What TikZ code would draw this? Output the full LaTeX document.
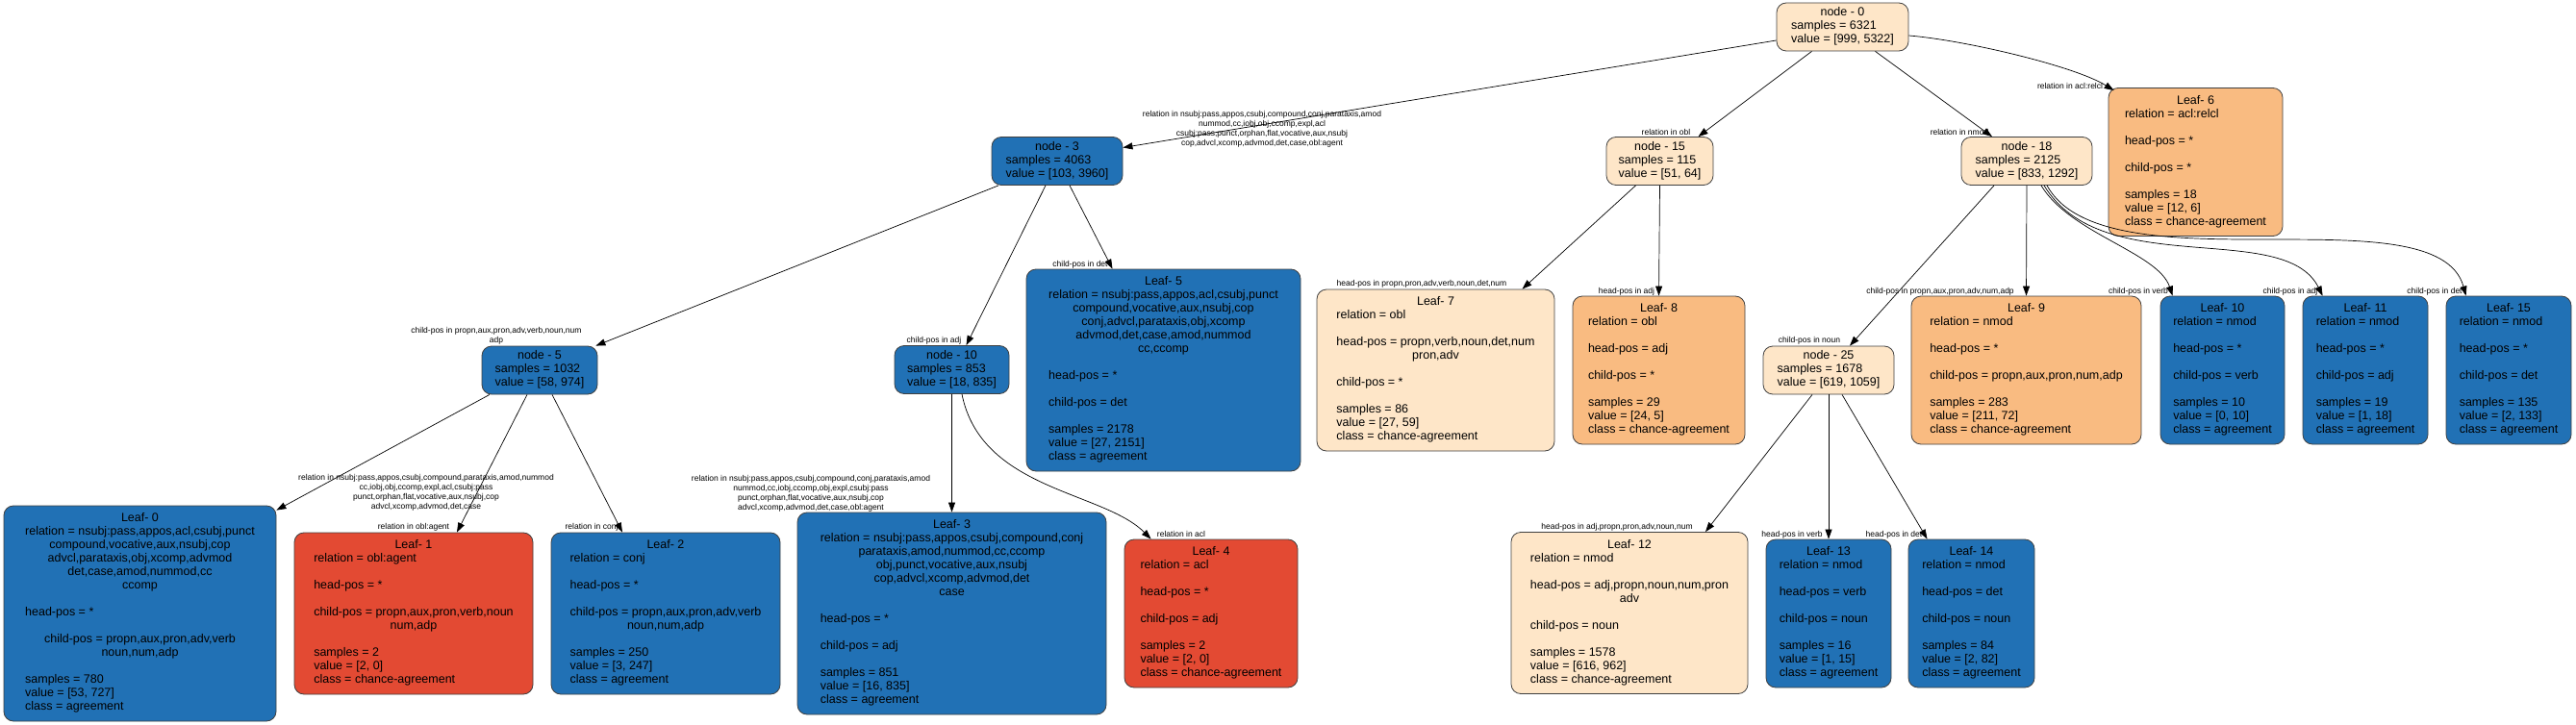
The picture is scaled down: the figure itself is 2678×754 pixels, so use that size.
\documentclass[tikz,border=0pt]{standalone}
\usepackage{fontspec}
\setmainfont{Liberation Sans}
\usetikzlibrary{arrows.meta}
\definecolor{lightpeach}{HTML}{FEE6C8}
\definecolor{midorange}{HTML}{F9BB81}
\definecolor{agreeblue}{HTML}{2171B5}
\definecolor{chancered}{HTML}{E34A33}
\newcommand{\midrow}[1]{\multicolumn{1}{@{}c@{}}{#1}}
\newcommand{\boxtext}[1]{\begin{tabular}{@{}l@{}}#1\end{tabular}}

\begin{document}
\begin{tikzpicture}
  [x=1pt,y=-1pt,
   box/.style={draw=black!75,line width=0.8pt,rounded corners=10pt,inner xsep=8pt,
     font=\fontsize{12.5}{14}\selectfont},
   split/.style={box,inner ysep=4pt},
   leaf/.style={box,inner ysep=7pt},
   lbl/.style={font=\fontsize{8.5}{10}\selectfont,align=center,inner sep=0pt},
   link/.style={line width=0.7pt,-{Triangle[length=10pt,width=7pt]}}]
  \useasboundingbox (0,0) rectangle (2678,754);

  % split nodes
  \node[split,fill=lightpeach,minimum width=137] (n0) at (1915.5,28) {\boxtext{\midrow{node - 0}\\ samples = 6321\\ value = [999, 5322]}};
  \node[split,fill=agreeblue,minimum width=136] (n3) at (1099,167.5) {\boxtext{\midrow{node - 3}\\ samples = 4063\\ value = [103, 3960]}};
  \node[split,fill=lightpeach,minimum width=111] (n15) at (1725.5,167.5) {\boxtext{\midrow{node - 15}\\ samples = 115\\ value = [51, 64]}};
  \node[split,fill=lightpeach,minimum width=136] (n18) at (2107,167.5) {\boxtext{\midrow{node - 18}\\ samples = 2125\\ value = [833, 1292]}};
  \node[split,fill=agreeblue,minimum width=120] (n5) at (561,385) {\boxtext{\midrow{node - 5}\\ samples = 1032\\ value = [58, 974]}};
  \node[split,fill=agreeblue,minimum width=119] (n10) at (989.5,384.5) {\boxtext{\midrow{node - 10}\\ samples = 853\\ value = [18, 835]}};
  \node[split,fill=lightpeach,minimum width=136] (n25) at (1901,385) {\boxtext{\midrow{node - 25}\\ samples = 1678\\ value = [619, 1059]}};

  % leaves
  \node[leaf,fill=agreeblue,minimum width=283] (l0) at (145.5,638) {\boxtext{\midrow{Leaf- 0}\\
    relation = nsubj:pass,appos,acl,csubj,punct\\ \midrow{compound,vocative,aux,nsubj,cop}\\
    \midrow{advcl,parataxis,obj,xcomp,advmod}\\ \midrow{det,case,amod,nummod,cc}\\ \midrow{ccomp}\\ \\
    head-pos = *\\ \\ \midrow{child-pos = propn,aux,pron,adv,verb}\\ \midrow{noun,num,adp}\\ \\
    samples = 780\\ value = [53, 727]\\ class = agreement}};
  \node[leaf,fill=chancered,minimum width=248] (l1) at (430,638) {\boxtext{\midrow{Leaf- 1}\\
    relation = obl:agent\\ \\ head-pos = *\\ \\ \midrow{child-pos = propn,aux,pron,verb,noun}\\ \midrow{num,adp}\\ \\
    samples = 2\\ value = [2, 0]\\ class = chance-agreement}};
  \node[leaf,fill=agreeblue,minimum width=238] (l2) at (692,638) {\boxtext{\midrow{Leaf- 2}\\
    relation = conj\\ \\ head-pos = *\\ \\ \midrow{child-pos = propn,aux,pron,adv,verb}\\ \midrow{noun,num,adp}\\ \\
    samples = 250\\ value = [3, 247]\\ class = agreement}};
  \node[leaf,fill=agreeblue,minimum width=321] (l3) at (989.5,638) {\boxtext{\midrow{Leaf- 3}\\
    relation = nsubj:pass,appos,csubj,compound,conj\\ \midrow{parataxis,amod,nummod,cc,ccomp}\\
    \midrow{obj,punct,vocative,aux,nsubj}\\ \midrow{cop,advcl,xcomp,advmod,det}\\ \midrow{case}\\ \\
    head-pos = *\\ \\ child-pos = adj\\ \\ samples = 851\\ value = [16, 835]\\ class = agreement}};
  \node[leaf,fill=chancered,minimum width=180] (l4) at (1259,638) {\boxtext{\midrow{Leaf- 4}\\
    relation = acl\\ \\ head-pos = *\\ \\ child-pos = adj\\ \\ samples = 2\\ value = [2, 0]\\ class = chance-agreement}};
  \node[leaf,fill=agreeblue,minimum width=285] (l5) at (1209.5,385) {\boxtext{\midrow{Leaf- 5}\\
    relation = nsubj:pass,appos,acl,csubj,punct\\ \midrow{compound,vocative,aux,nsubj,cop}\\
    \midrow{conj,advcl,parataxis,obj,xcomp}\\ \midrow{advmod,det,case,amod,nummod}\\ \midrow{cc,ccomp}\\ \\
    head-pos = *\\ \\ child-pos = det\\ \\ samples = 2178\\ value = [27, 2151]\\ class = agreement}};
  \node[leaf,fill=midorange,minimum width=181] (l6) at (2282.5,168.5) {\boxtext{\midrow{Leaf- 6}\\
    relation = acl:relcl\\ \\ head-pos = *\\ \\ child-pos = *\\ \\ samples = 18\\ value = [12, 6]\\ class = chance-agreement}};
  \node[leaf,fill=lightpeach,minimum width=247] (l7) at (1492.5,385) {\boxtext{\midrow{Leaf- 7}\\
    relation = obl\\ \\ head-pos = propn,verb,noun,det,num\\ \midrow{pron,adv}\\ \\ child-pos = *\\ \\
    samples = 86\\ value = [27, 59]\\ class = chance-agreement}};
  \node[leaf,fill=midorange,minimum width=179] (l8) at (1724.5,385) {\boxtext{\midrow{Leaf- 8}\\
    relation = obl\\ \\ head-pos = adj\\ \\ child-pos = *\\ \\ samples = 29\\ value = [24, 5]\\ class = chance-agreement}};
  \node[leaf,fill=midorange,minimum width=239] (l9) at (2106.5,385) {\boxtext{\midrow{Leaf- 9}\\
    relation = nmod\\ \\ head-pos = *\\ \\ child-pos = propn,aux,pron,num,adp\\ \\
    samples = 283\\ value = [211, 72]\\ class = chance-agreement}};
  \node[leaf,fill=agreeblue,minimum width=129] (l10) at (2310.5,385) {\boxtext{\midrow{Leaf- 10}\\
    relation = nmod\\ \\ head-pos = *\\ \\ child-pos = verb\\ \\ samples = 10\\ value = [0, 10]\\ class = agreement}};
  \node[leaf,fill=agreeblue,minimum width=130] (l11) at (2459,385) {\boxtext{\midrow{Leaf- 11}\\
    relation = nmod\\ \\ head-pos = *\\ \\ child-pos = adj\\ \\ samples = 19\\ value = [1, 18]\\ class = agreement}};
  \node[leaf,fill=agreeblue,minimum width=130] (l15) at (2608,385) {\boxtext{\midrow{Leaf- 15}\\
    relation = nmod\\ \\ head-pos = *\\ \\ child-pos = det\\ \\ samples = 135\\ value = [2, 133]\\ class = agreement}};
  \node[leaf,fill=lightpeach,minimum width=246] (l12) at (1694,637.5) {\boxtext{\midrow{Leaf- 12}\\
    relation = nmod\\ \\ head-pos = adj,propn,noun,num,pron\\ \midrow{adv}\\ \\ child-pos = noun\\ \\
    samples = 1578\\ value = [616, 962]\\ class = chance-agreement}};
  \node[leaf,fill=agreeblue,minimum width=130] (l13) at (1901,638) {\boxtext{\midrow{Leaf- 13}\\
    relation = nmod\\ \\ head-pos = verb\\ \\ child-pos = noun\\ \\ samples = 16\\ value = [1, 15]\\ class = agreement}};
  \node[leaf,fill=agreeblue,minimum width=131] (l14) at (2049.5,638) {\boxtext{\midrow{Leaf- 14}\\
    relation = nmod\\ \\ head-pos = det\\ \\ child-pos = noun\\ \\ samples = 84\\ value = [2, 82]\\ class = agreement}};

  % edge labels
  \node[lbl] (t3) at (1312,134) {relation in nsubj:pass,appos,csubj,compound,conj,parataxis,amod\\
    nummod,cc,iobj,obj,ccomp,expl,acl\\ csubj:pass,punct,orphan,flat,vocative,aux,nsubj\\
    cop,advcl,xcomp,advmod,det,case,obl:agent};
  \node[lbl] (t15) at (1732,137) {relation in obl};
  \node[lbl] (t18) at (2037,137) {relation in nmod};
  \node[lbl] (tl6) at (2152,89) {relation in acl:relcl};
  \node[lbl] (t5) at (516,349) {child-pos in propn,aux,pron,adv,verb,noun,num\\ adp};
  \node[lbl] (t10) at (971,354) {child-pos in adj};
  \node[lbl] (tl5) at (1123,275) {child-pos in det};
  \node[lbl] (tl7) at (1478,295) {head-pos in propn,pron,adv,verb,noun,det,num};
  \node[lbl] (tl8) at (1691,303) {head-pos in adj};
  \node[lbl] (t25) at (1881,354) {child-pos in noun};
  \node[lbl] (tl9) at (2017,303) {child-pos in propn,aux,pron,adv,num,adp};
  \node[lbl] (tl10) at (2223,303) {child-pos in verb};
  \node[lbl] (tl11) at (2381,303) {child-pos in adj};
  \node[lbl] (tl15) at (2531,303) {child-pos in det};
  \node[lbl] (tl0) at (443,512) {relation in nsubj:pass,appos,csubj,compound,parataxis,amod,nummod\\
    cc,iobj,obj,ccomp,expl,acl,csubj:pass\\ punct,orphan,flat,vocative,aux,nsubj,cop\\
    advcl,xcomp,advmod,det,case};
  \node[lbl] (tl1) at (430,548) {relation in obl:agent};
  \node[lbl] (tl2) at (615,548) {relation in conj};
  \node[lbl] (tl3) at (843,513) {relation in nsubj:pass,appos,csubj,compound,conj,parataxis,amod\\
    nummod,cc,iobj,ccomp,obj,expl,csubj:pass\\ punct,orphan,flat,vocative,aux,nsubj,cop\\
    advcl,xcomp,advmod,det,case,obl:agent};
  \node[lbl] (tl4) at (1228,555) {relation in acl};
  \node[lbl] (tl12) at (1681,548) {head-pos in adj,propn,pron,adv,noun,num};
  \node[lbl] (tl13) at (1863,556) {head-pos in verb};
  \node[lbl] (tl14) at (1969,556) {head-pos in det};

  \foreach \from/\fx/\fy/\to/\tx/\ty in {n0.west/0/14/n3.east/0/-14,
      n0.south/-32/0/n15.north/40/0, n0.south/34/0/n18.north/-36/0,
      n3.south/-61/0/n5.north east/-2/0, n3.south/-12/0/n10.north/15/0,
      n3.south/13/0/l5.north/-53/0, n15.south/-25/0/l7.north/90/0,
      n15.south/0/0/l8.north/0/0, n18.south/-34/0/n25.north/22/0,
      n18.south/0/0/l9.north/0/0, n5.south/-52/0/l0.north east/0/5,
      n5.south/-13/0/l1.north/45/0, n5.south/13/0/l2.north/-45/0,
      n10.south/0/0/l3.north/0/0, n25.south/-17/0/l12.north/79/0,
      n25.south/0/0/l13.north/0/0, n25.south/14/0/l14.north/-46/0}
    \draw[link] ([shift={(\fx,\fy)}]\from) -- ([shift={(\tx,\ty)}]\to);

  \draw[link] ([shift={(0,9)}]n0.east) .. controls +(60,5) and +(-40,-25) .. ([shift={(6,3)}]l6.north west);
  \draw[link] ([shift={(10.5,0)}]n10.south) .. controls +(20,100) and +(-50,-50) .. ([shift={(28,0)}]l4.north west);
  \draw[link] ([shift={(15,0)}]n18.south) .. controls +(30,50) and +(-15,-45) .. ([shift={(13,0)}]l10.north west);
  \draw[link] ([shift={(18,0)}]n18.south) .. controls +(60,100) and +(-40,-80) .. ([shift={(21,0)}]l11.north west);
  \draw[link] ([shift={(21,0)}]n18.south) .. controls +(60,110) and +(-30,-110) .. ([shift={(21,0)}]l15.north west);

\end{tikzpicture}
\end{document}
